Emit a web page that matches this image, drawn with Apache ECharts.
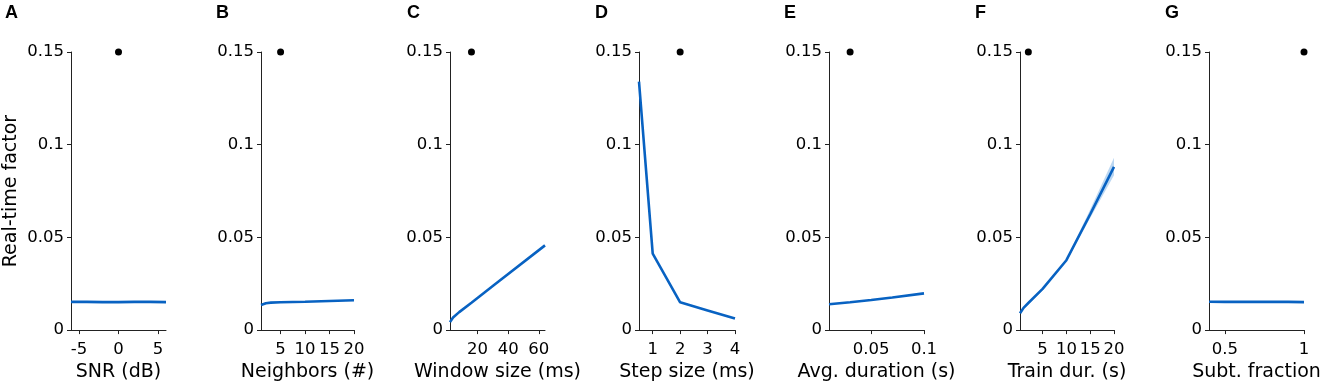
<!DOCTYPE html>
<html>
<head>
<meta charset="utf-8">
<script src="https://cdn.jsdelivr.net/npm/echarts@6/dist/echarts.min.js"></script>
<style>html,body{margin:0;padding:0;background:#fff}#c{width:1325px;height:387px}</style>
</head>
<body>
<div id="c"></div>
<script>
// ---- data ----
const panelLetters = ['A','B','C','D','E','F','G'];
const xNames = ['SNR (dB)','Neighbors (#)','Window size (ms)','Step size (ms)','Avg. duration (s)','Train dur. (s)','Subt. fraction'];
const yTicks = [0, 0.05, 0.1, 0.15];

const snrX = [-6,-4,-2,0,2,4,6];
const snrY = [0.0152,0.0152,0.0151,0.0151,0.0152,0.0152,0.0151];

const neighborsX = [1,2,3,5,10,15,20];
const neighborsY = [0.0135,0.0145,0.0148,0.0150,0.0153,0.0157,0.0161];

const windowX = [2,4,8,16,32,64];
const windowY = [0.0043,0.0068,0.0097,0.0148,0.0251,0.0457];

const stepX = [0.5,1,2,3,4];
const stepY = [0.134,0.0412,0.0150,0.0106,0.0062];

const durX = [0.01,0.02,0.03,0.05,0.07,0.1];
const durY = [0.0139,0.0145,0.0150,0.0162,0.0176,0.0198];

const trainX = [0.25,1,2,5,10,15,20];
const trainY = [0.0091,0.0120,0.0146,0.0222,0.0377,0.0625,0.0880];
const trainLo = [0.0088,0.0117,0.0142,0.0218,0.0372,0.0605,0.0835];
const trainHi = [0.0094,0.0123,0.0149,0.0226,0.0382,0.0650,0.0930];

const fracX = [0.4,0.5,0.6,0.7,0.8,0.9,1];
const fracY = [0.0153,0.0152,0.0152,0.0152,0.0152,0.0152,0.0151];

const dotX = [0, 5, 16, 2, 0.03, 2, 1];
const dotY = 0.15;

const xTickVals = [[-5,0,5],[5,10,15,20],[20,40,60],[1,2,3,4],[0.05,0.1],[5,10,15,20],[0.5,1]];
const xRanges = [[-6,6],[1,20],[2,64],[0.5,4],[0.01,0.1],[0.25,20],[0.4,1]];
const seriesX = [snrX, neighborsX, windowX, stepX, durX, trainX, fracX];
const seriesY = [snrY, neighborsY, windowY, stepY, durY, trainY, fracY];

// ---- layout ----
const gridLeft = [71, 261, 450, 639, 829, 1020, 1209];
const gridWidth = [95, 93, 95, 96, 95, 94, 95];
const letterLeft = [5, 216, 407, 595, 784, 975, 1165];
const FONT = 'DejaVu Sans';
const BLUE = '#0862c2';

const fmt = v => String(+(+v).toFixed(3));

const grid = [], xAxis = [], yAxis = [], series = [], title = [];
for (let i = 0; i < 7; i++) {
  grid.push({left: gridLeft[i], width: gridWidth[i], top: 52, height: 280, containLabel: false});
  title.push({text: panelLetters[i], left: letterLeft[i], top: 4, padding: 0,
    textStyle: {fontFamily: 'Liberation Sans', fontWeight: 'bold', fontSize: 18, color: '#000'}});
  xAxis.push({
    type: 'value', gridIndex: i, min: xRanges[i][0], max: xRanges[i][1],
    name: xNames[i], nameLocation: 'middle', nameGap: 32,
    nameTextStyle: {fontFamily: FONT, fontSize: 19, color: '#000'},
    axisLine: {show: true, onZero: false, lineStyle: {color: '#222', width: 1}},
    axisTick: {show: true, inside: false, length: 4, lineStyle: {color: '#222'}, customValues: xTickVals[i]},
    axisLabel: {show: true, margin: 11, fontFamily: FONT, fontSize: 16.5, color: '#000', customValues: xTickVals[i], formatter: fmt, showMinLabel: true, showMaxLabel: true, hideOverlap: false},
    splitLine: {show: false}
  });
  yAxis.push({
    type: 'value', gridIndex: i, min: 0, max: 0.15, interval: 0.05,
    name: i === 0 ? 'Real-time factor' : '', nameLocation: 'middle', nameGap: 50, nameRotate: 90,
    nameTextStyle: {fontFamily: FONT, fontSize: 19, color: '#000'},
    axisLine: {show: true, onZero: false, lineStyle: {color: '#222', width: 1}},
    axisTick: {show: true, inside: false, length: 4, lineStyle: {color: '#222'}},
    axisLabel: {show: true, margin: 7, fontFamily: FONT, fontSize: 16.5, color: '#000', formatter: fmt, customValues: yTicks},
    splitLine: {show: false}
  });
  if (i === 5) {
    series.push({type: 'custom', xAxisIndex: i, yAxisIndex: i, silent: true, z: 1,
      data: [0],
      renderItem: function (params, api) {
        const pts = [];
        for (let k = 0; k < trainX.length; k++) pts.push(api.coord([trainX[k], trainHi[k]]));
        for (let k = trainX.length - 1; k >= 0; k--) pts.push(api.coord([trainX[k], trainLo[k]]));
        return {type: 'polygon', shape: {points: pts}, style: {fill: 'rgba(120,175,230,0.5)'}};
      }
    });
  }
  series.push({type: 'line', xAxisIndex: i, yAxisIndex: i, symbol: 'none', silent: true,
    lineStyle: {color: BLUE, width: 2.6}, data: seriesX[i].map((x, k) => [x, seriesY[i][k]]), z: 3});
  series.push({type: 'scatter', xAxisIndex: i, yAxisIndex: i, symbol: 'circle', symbolSize: 7, silent: true,
    itemStyle: {color: '#000', opacity: 1}, data: [[dotX[i], dotY]], z: 4, clip: false});
}

const chart = echarts.init(document.getElementById('c'), null, {renderer: 'canvas'});
chart.setOption({animation: false, backgroundColor: '#fff', title, grid, xAxis, yAxis, series});
</script>
</body>
</html>
